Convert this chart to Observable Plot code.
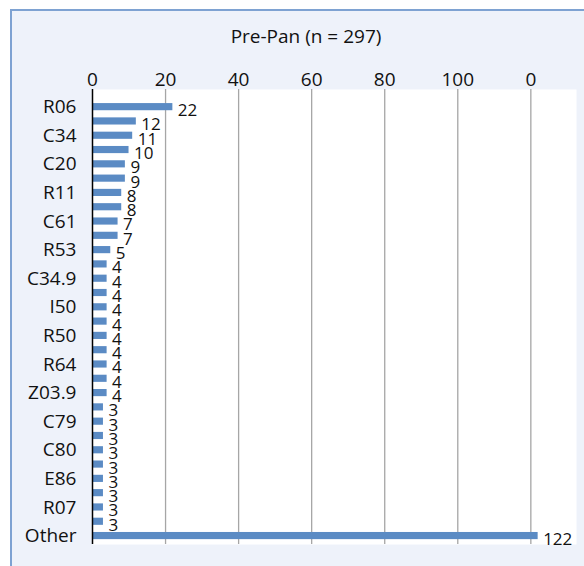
<!DOCTYPE html>
<html>
<head>
<meta charset="utf-8">
<script src="https://cdn.jsdelivr.net/npm/d3@7"></script>
<script src="https://cdn.jsdelivr.net/npm/@observablehq/plot@0.6"></script>
<style>
  html, body { margin: 0; padding: 0; background: #ffffff; }
  #wrap { position: relative; width: 584px; height: 566px; overflow: hidden; background: #ffffff; }
  #panel { position: absolute; left: 10px; top: 9px; width: 600px; height: 600px;
           background: #eef2fa; border-left: 2px solid #7ea2d2; border-top: 2px solid #7ea2d2; box-sizing: border-box; }
  #title { position: absolute; left: 0; width: 612px; top: 23px; text-align: center; line-height: 26px;
           font-family: "Open Sans", sans-serif; font-size: 19px; color: #111; }
  #chart { position: absolute; left: 0; top: 0; }
</style>
</head>
<body>
<div id="wrap">
  <div id="panel"></div>
  <div id="title">Pre-Pan (n = 297)</div>
  <div id="chart"></div>
</div>
<script>
// Category labels (only every other category is labelled on the axis)
const categories = ["R06","","C34","","C20","","R11","","C61","","R53","","C34.9","","I50","","R50","","R64","","Z03.9","","C79","","C80","","E86","","R07","","Other"];
const values = [22,12,11,10,9,9,8,8,7,7,5,4,4,4,4,4,4,4,4,4,4,3,3,3,3,3,3,3,3,3,122];
const xTicks = [0,20,40,60,80,100,120];
const xTickLabels = ["0","20","40","60","80","100","0"];

const rows = values.map((v, i) => ({i, v}));

const chart = Plot.plot({
  width: 584,
  height: 566,
  marginTop: 89,
  marginBottom: 22,
  marginLeft: 92,
  marginRight: 8,
  style: {background: "transparent", fontFamily: "Open Sans, sans-serif", fontSize: "19px", color: "#111"},
  x: {domain: [0, 132.5], axis: "top", ticks: xTicks, tickFormat: (d, i) => xTickLabels[i], tickSize: 0, tickPadding: 4, label: null},
  y: {type: "band", domain: d3.range(values.length), range: [99.5, 542.7], paddingInner: 0.5, paddingOuter: 0.25, round: false,
      tickSize: 0, tickPadding: 16, tickFormat: i => categories[i], label: null},
  marks: [
    Plot.frame({fill: "white", stroke: null}),
    Plot.ruleX(xTicks.slice(1), {stroke: "#a6a6a6", strokeWidth: 1.3}),
    Plot.barX(rows, {x: "v", y: "i", fill: "#5b8bc4"}),
    Plot.ruleX([0], {stroke: "#000", strokeWidth: 1.5}),
    Plot.text(rows, {x: "v", y: "i", text: d => String(d.v), textAnchor: "start", dx: 5, dy: 3.5, fontSize: 17, fill: "#111"})
  ]
});
document.getElementById("chart").appendChild(chart);
</script>
</body>
</html>
